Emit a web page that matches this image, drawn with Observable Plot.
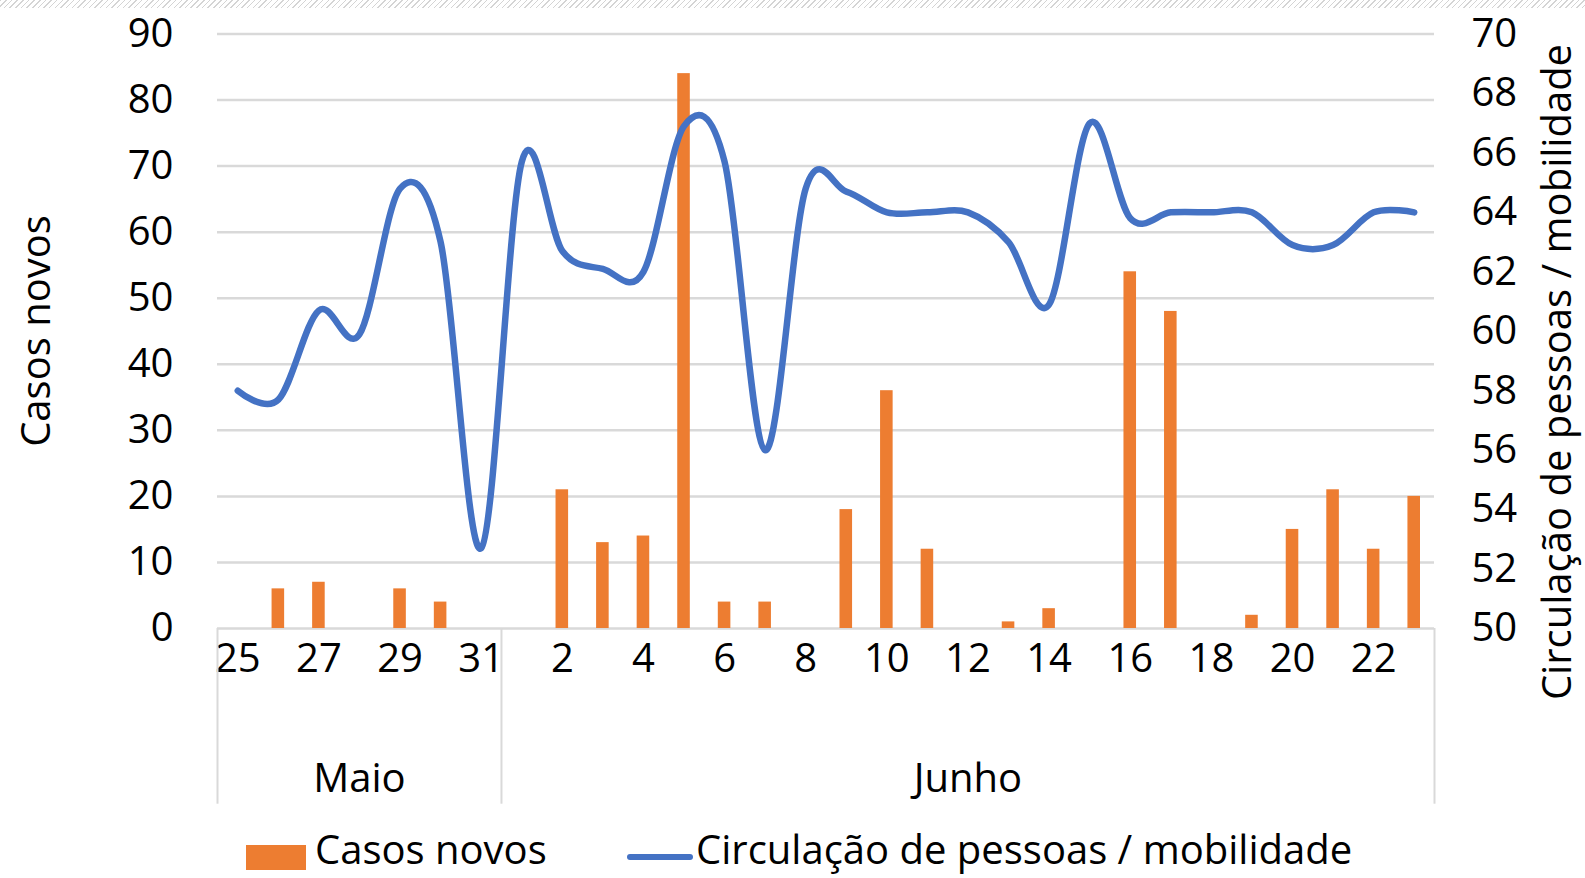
<!DOCTYPE html>
<html>
<head>
<meta charset="utf-8">
<script src="https://cdn.jsdelivr.net/npm/d3@7"></script>
<script src="https://cdn.jsdelivr.net/npm/@observablehq/plot@0.6"></script>
<style>
  html, body { margin: 0; padding: 0; background: #fff; }
  #wrap { position: relative; width: 1585px; height: 878px; overflow: hidden; font-family: "Open Sans", sans-serif; color: #000; }
  #hatch { position: absolute; left: 0; top: 0; width: 1585px; height: 8px;
    background: repeating-linear-gradient(135deg, #d4d4d4 0 1px, #fff 1px 4px); }
  .ytitle { position: absolute; font-size: 40px; white-space: nowrap; transform: translate(-50%, -50%) rotate(-90deg); line-height: 1; }
  .leg { position: absolute; font-size: 40px; white-space: nowrap; line-height: 1; }
  svg { position: absolute; left: 0; top: 0; }
</style>
</head>
<body>
<div id="wrap">
  <div id="hatch"></div>
</div>
<script>
// Data
const dayLabels = [25, 26, 27, 28, 29, 30, 31, 1, 2, 3, 4, 5, 6, 7, 8, 9, 10, 11, 12, 13, 14, 15, 16, 17, 18, 19, 20, 21, 22, 23];
const monthLabels = ["Maio","Maio","Maio","Maio","Maio","Maio","Maio",
  "Junho","Junho","Junho","Junho","Junho","Junho","Junho","Junho","Junho","Junho","Junho","Junho",
  "Junho","Junho","Junho","Junho","Junho","Junho","Junho","Junho","Junho","Junho","Junho"];
const casosNovos = [0, 6, 7, 0, 6, 4, 0, 0, 21, 13, 14, 84, 4, 4, 0, 18, 36, 12, 0, 1, 3, 0, 54, 48, 0, 2, 15, 21, 12, 20];
const mobilidade = [58.0, 57.7, 60.7, 59.9, 64.8, 63.0, 52.7, 65.7, 62.7, 62.1, 62.0, 66.9, 65.7, 56.0, 64.8, 64.7, 64.0,
  64.0, 64.0, 63.0, 60.9, 67.0, 63.8, 64.0, 64.0, 64.0, 62.9, 62.9, 64.0, 64.0];
const leftTicks = [0, 10, 20, 30, 40, 50, 60, 70, 80, 90];
const rightTicks = [50, 52, 54, 56, 58, 60, 62, 64, 66, 68, 70];
const monthNames = ["Maio", "Junho"];
const seriesNames = ["Casos novos", "Circulação de pessoas / mobilidade"];

const keys = dayLabels.map((d, i) => monthLabels[i] + "-" + d);
const data = keys.map((k, i) => ({key: k, day: dayLabels[i], month: monthLabels[i], casos: casosNovos[i], mob: mobilidade[i]}));
const labelOf = new Map(data.map(d => [d.key, String(d.day)]));

// right scale (50..70) mapped onto left scale (0..90)
const toLeft = v => (v - 50) * 4.5;
const W = 1585, H = 878, mL = 217, mR = 151, mT = 33.5, mB = 250;
const bw = (W - mL - mR) / keys.length;

const monthCenters = monthNames.map(m => {
  const idx = data.map((d, i) => d.month === m ? i : -1).filter(i => i >= 0);
  return {month: m, key: keys[(idx[0] + idx[idx.length - 1]) / 2]};
});
const firstKey = keys[0];
const monthEnds = monthNames.map(m => { const ks = data.filter(d => d.month === m); return ks[ks.length - 1].key; });

const chart = Plot.plot({
  width: W, height: H,
  marginTop: mT, marginBottom: mB, marginLeft: mL, marginRight: mR,
  x: {type: "band", domain: keys, padding: 0, round: false, axis: null},
  y: {domain: [0, 90], axis: null},
  style: {fontFamily: "Open Sans, sans-serif", fontSize: "40px", color: "#000", background: "transparent", overflow: "visible"},
  marks: [
    Plot.gridY(leftTicks, {stroke: "#d9d9d9", strokeOpacity: 1, strokeWidth: 2.5}),
    Plot.axisY(leftTicks, {anchor: "left", tickSize: 0, tickPadding: 44, label: null, fontSize: 40}),
    Plot.axisY(rightTicks.map(toLeft), {anchor: "right", tickSize: 0, tickPadding: 37, textAnchor: "start", label: null, fontSize: 40,
      tickFormat: v => String(Math.round(50 + v / 4.5))}),
    Plot.axisX(keys.filter((k, i) => i % 2 === 0), {anchor: "bottom", tickSize: 0, tickPadding: 15, label: null, fontSize: 40,
      tickFormat: k => labelOf.get(k)}),
    Plot.ruleX([firstKey], {dx: -bw / 2, y1: 0, y2: -26.6, stroke: "#d9d9d9", strokeWidth: 2}),
    Plot.ruleX(monthEnds, {dx: bw / 2, y1: 0, y2: -26.6, stroke: "#d9d9d9", strokeWidth: 2}),
    Plot.text(monthCenters, {x: "key", text: "month", frameAnchor: "bottom", lineAnchor: "top", dy: 135, fontSize: 40}),
    Plot.barY(data, {x: "key", y: "casos", fill: "#ED7D31", insetLeft: 14, insetRight: 14}),
    Plot.line(data, {x: "key", y: d => toLeft(d.mob), stroke: "#4472C4", strokeWidth: 6.5, curve: "cardinal", strokeLinecap: "round", strokeLinejoin: "round"})
  ]
});

const wrap = document.getElementById("wrap");
wrap.appendChild(chart);

function addDiv(cls, text, css) {
  const d = document.createElement("div");
  d.className = cls; d.textContent = text;
  Object.assign(d.style, css);
  wrap.appendChild(d);
  return d;
}
addDiv("ytitle", seriesNames[0], {left: "35px", top: "331px"});
addDiv("ytitle", seriesNames[1], {left: "1556px", top: "372px"});

// legend
const sw = document.createElement("div");
Object.assign(sw.style, {position: "absolute", left: "246px", top: "845px", width: "60px", height: "25px", background: "#ED7D31"});
wrap.appendChild(sw);
addDiv("leg", seriesNames[0], {left: "315px", top: "829px"});
const ln = document.createElement("div");
Object.assign(ln.style, {position: "absolute", left: "627px", top: "854px", width: "66px", height: "6px", background: "#4472C4", borderRadius: "3px"});
wrap.appendChild(ln);
addDiv("leg", seriesNames[1], {left: "696px", top: "829px"});
</script>
</body>
</html>
